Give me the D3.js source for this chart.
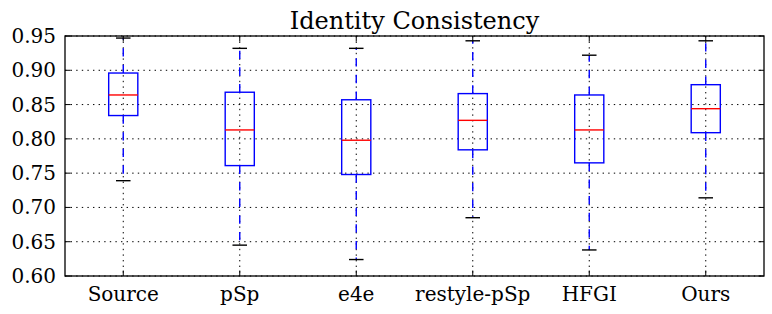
<!DOCTYPE html>
<html><head><meta charset="utf-8">
<script src="https://cdn.jsdelivr.net/npm/d3@7"></script>
<style>body{margin:0;background:#fff}svg{display:block}</style>
</head><body>
<svg id="c" width="772" height="314"></svg>
<script>
const categories = ["Source","pSp","e4e","restyle-pSp","HFGI","Ours"];
const whiskerLow  = [0.739, 0.645, 0.624, 0.685, 0.638, 0.714];
const q1          = [0.834, 0.761, 0.748, 0.784, 0.765, 0.809];
const median      = [0.864, 0.813, 0.798, 0.827, 0.813, 0.844];
const q3          = [0.896, 0.868, 0.857, 0.866, 0.864, 0.879];
const whiskerHigh = [0.947, 0.932, 0.932, 0.943, 0.922, 0.943];
const yTicks = [0.60,0.65,0.70,0.75,0.80,0.85,0.90,0.95];
const title = "Identity Consistency";

const font = "'DejaVu Serif'";
const labelSize = 20, titleSize = 24;

const L=65, R=764, T=36, B=276;
const svg = d3.select("#c");
const x = d3.scaleLinear().domain([0.5, categories.length+0.5]).range([L,R]);
const y = d3.scaleLinear().domain([0.60,0.95]).range([B,T]);
const idx = categories.map((d,i)=>i+1);

// grid
const g = svg.append("g");
g.selectAll("line.gy").data(yTicks).join("line")
  .attr("x1",L).attr("x2",R).attr("y1",d=>y(d)).attr("y2",d=>y(d))
  .attr("stroke","#000").attr("stroke-width",1).attr("stroke-dasharray","1.4,4.2");
g.selectAll("line.gx").data(idx).join("line")
  .attr("x1",d=>x(d)).attr("x2",d=>x(d)).attr("y1",T).attr("y2",B)
  .attr("stroke","#000").attr("stroke-width",1).attr("stroke-dasharray","1.4,4.2");

// boxes
const bw = 0.25;
const bx = svg.append("g");
categories.forEach((c,i)=>{
  const xc = x(i+1), hw = (x(1+bw/2)-x(1)), cw = hw/2;
  bx.append("line").attr("x1",xc).attr("x2",xc).attr("y1",y(q3[i])).attr("y2",y(whiskerHigh[i]))
    .attr("stroke","#0000ff").attr("stroke-width",1.4).attr("stroke-dasharray","8.3,8.3");
  bx.append("line").attr("x1",xc).attr("x2",xc).attr("y1",y(q1[i])).attr("y2",y(whiskerLow[i]))
    .attr("stroke","#0000ff").attr("stroke-width",1.4).attr("stroke-dasharray","8.3,8.3");
  [whiskerHigh[i], whiskerLow[i]].forEach(v=>{
    bx.append("line").attr("x1",xc-cw).attr("x2",xc+cw).attr("y1",y(v)).attr("y2",y(v))
      .attr("stroke","#000").attr("stroke-width",1.4);
  });
  bx.append("rect").attr("x",xc-hw).attr("width",2*hw)
    .attr("y",y(q3[i])).attr("height",y(q1[i])-y(q3[i]))
    .attr("fill","none").attr("stroke","#0000ff").attr("stroke-width",1.4);
  bx.append("line").attr("x1",xc-hw).attr("x2",xc+hw).attr("y1",y(median[i])).attr("y2",y(median[i]))
    .attr("stroke","#ff0000").attr("stroke-width",1.4);
});

// ticks inward
const tk = svg.append("g").attr("stroke","#000").attr("stroke-width",1);
yTicks.forEach(v=>{
  tk.append("line").attr("x1",L).attr("x2",L+5.5).attr("y1",y(v)).attr("y2",y(v));
  tk.append("line").attr("x1",R).attr("x2",R-5.5).attr("y1",y(v)).attr("y2",y(v));
});
idx.forEach(v=>{
  tk.append("line").attr("x1",x(v)).attr("x2",x(v)).attr("y1",B).attr("y2",B-5.5);
  tk.append("line").attr("x1",x(v)).attr("x2",x(v)).attr("y1",T).attr("y2",T+5.5);
});

// frame
svg.append("rect").attr("x",L).attr("y",T).attr("width",R-L).attr("height",B-T)
  .attr("fill","none").attr("stroke","#000").attr("stroke-width",1.3);

// labels
svg.append("g").selectAll("text").data(yTicks).join("text")
  .attr("x",L-9).attr("y",d=>y(d)+7)
  .attr("text-anchor","end").style("font-family",font).style("font-size",labelSize+"px")
  .text(d=>d3.format(".2f")(d));
svg.append("g").selectAll("text").data(categories).join("text")
  .attr("x",(d,i)=>x(i+1)).attr("y",300.5)
  .attr("text-anchor","middle").style("font-family",font).style("font-size",labelSize+"px")
  .text(d=>d);
svg.append("text").attr("x",(L+R)/2).attr("y",29).attr("text-anchor","middle")
  .style("font-family",font).style("font-size",titleSize+"px").text(title);
</script>
</body></html>
